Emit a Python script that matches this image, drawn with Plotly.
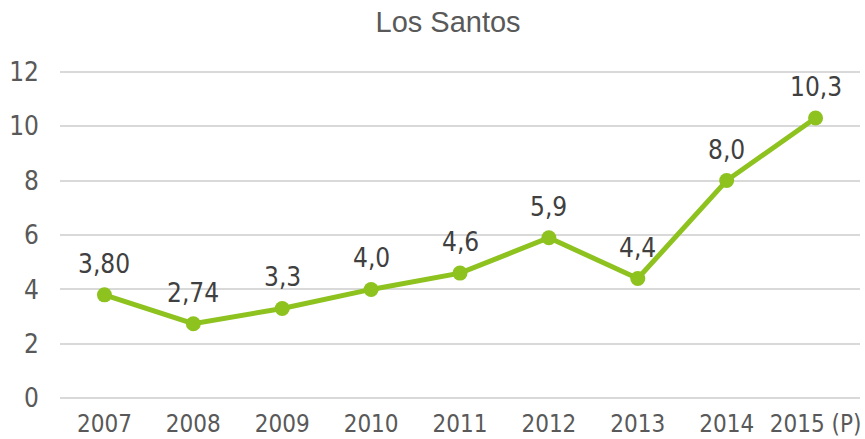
import plotly.graph_objects as go

# Data
years = ["2007", "2008", "2009", "2010", "2011", "2012", "2013", "2014", "2015 (P)"]
values = [3.80, 2.74, 3.3, 4.0, 4.6, 5.9, 4.4, 8.0, 10.3]
value_labels = ["3,80", "2,74", "3,3", "4,0", "4,6", "5,9", "4,4", "8,0", "10,3"]
y_ticks = [0, 2, 4, 6, 8, 10, 12]

GREEN = "#8DC21F"
TEXT = "#595959"
LABEL = "#404040"
GRID = "#D9D9D9"
NUM_FONT = "Liberation Sans Narrow, DejaVu Sans Condensed, sans-serif"
TITLE_FONT = "Liberation Sans, sans-serif"

fig = go.Figure(
    go.Scatter(
        x=years,
        y=values,
        mode="lines+markers",
        line=dict(color=GREEN, width=5),
        marker=dict(color=GREEN, size=15),
        cliponaxis=False,
        hoverinfo="skip",
    )
)

# value labels above each point (x given as category index)
for i, (v, lab) in enumerate(zip(values, value_labels)):
    fig.add_annotation(
        x=i, y=v, text=lab, showarrow=False,
        xanchor="center", yanchor="bottom", yshift=14,
        font=dict(family=NUM_FONT, size=26, color=LABEL),
    )

fig.update_layout(
    width=865,
    height=439,
    margin=dict(l=60, r=5, t=69, b=38),
    paper_bgcolor="white",
    plot_bgcolor="white",
    showlegend=False,
    title=dict(
        text="Los Santos",
        x=0.518,
        xanchor="center",
        y=0.95,
        yanchor="middle",
        font=dict(family=TITLE_FONT, size=29, color=TEXT),
    ),
)

fig.update_xaxes(
    type="category",
    range=[-0.5, len(years) - 0.5],
    automargin=False,
    showgrid=False,
    showline=False,
    zeroline=False,
    ticks="",
    ticklabelstandoff=6,
    tickfont=dict(family=NUM_FONT, size=24, color=TEXT),
)

fig.update_yaxes(
    range=[-0.1, 12.1],
    tickvals=y_ticks,
    automargin=False,
    showgrid=True,
    gridcolor=GRID,
    gridwidth=1.5,
    zeroline=True,
    zerolinecolor=GRID,
    zerolinewidth=1.5,
    showline=False,
    ticks="",
    ticklabelstandoff=20,
    tickfont=dict(family=NUM_FONT, size=26, color=TEXT),
)

fig.write_html("out.html")
